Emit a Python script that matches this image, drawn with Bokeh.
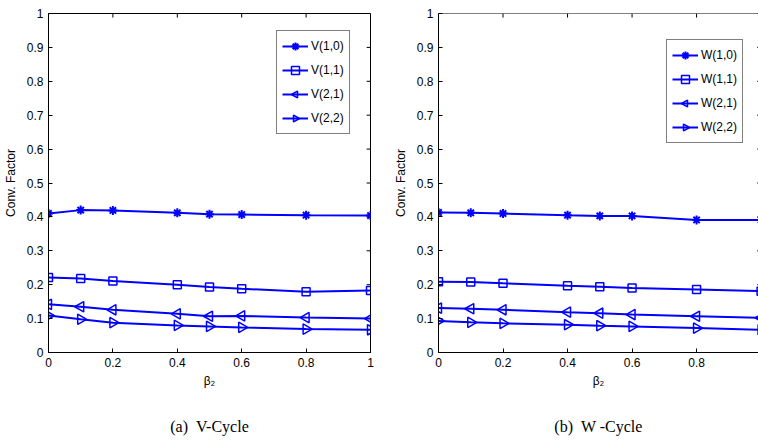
import numpy as np
from bokeh.plotting import figure
from bokeh.layouts import row
from bokeh.models import (Range1d, FixedTicker, Legend, LegendItem, Span, ColumnDataSource,
                          LinearAxis)
from bokeh.embed import file_html
from bokeh.resources import INLINE

beta2 = [0, 0.1, 0.2, 0.4, 0.5, 0.6, 0.8, 1.0]

v10 = [0.410, 0.420, 0.419, 0.412, 0.408, 0.407, 0.405, 0.404]
v11 = [0.221, 0.218, 0.211, 0.200, 0.193, 0.188, 0.179, 0.183]
v21 = [0.142, 0.135, 0.126, 0.114, 0.107, 0.108, 0.103, 0.100]
v22 = [0.109, 0.098, 0.088, 0.080, 0.077, 0.074, 0.069, 0.067]

w10 = [0.413, 0.412, 0.410, 0.405, 0.403, 0.403, 0.391, 0.391]
w11 = [0.209, 0.208, 0.204, 0.197, 0.194, 0.190, 0.186, 0.181]
w21 = [0.131, 0.129, 0.126, 0.119, 0.116, 0.112, 0.107, 0.102]
w22 = [0.093, 0.089, 0.086, 0.082, 0.079, 0.077, 0.072, 0.067]

v_names = ["V(1,0)", "V(1,1)", "V(2,1)", "V(2,2)"]
w_names = ["W(1,0)", "W(1,1)", "W(2,1)", "W(2,2)"]

x_ticks = [0, 0.2, 0.4, 0.6, 0.8, 1]
x_tick_labels = ["0", "0.2", "0.4", "0.6", "0.8", "1"]
y_ticks = [0, 0.1, 0.2, 0.3, 0.4, 0.5, 0.6, 0.7, 0.8, 0.9, 1]
y_tick_labels = ["0", "0.1", "0.2", "0.3", "0.4", "0.5", "0.6", "0.7", "0.8", "0.9", "1"]

x_label = "β₂"
y_label = "Conv. Factor"
captions = ["(a)\u00a0\u00a0V-Cycle", "(b)\u00a0\u00a0W -Cycle"]

BLUE = "#0000ff"
FONT = "Liberation Sans"
TICK = 0.012


def style_axis(ax, ticks, labels):
    ax.ticker = FixedTicker(ticks=ticks)
    ax.major_label_overrides = {t: l for t, l in zip(ticks, labels)}
    ax.axis_line_color = "black"
    ax.axis_line_width = 1
    ax.major_tick_line_color = "black"
    ax.major_tick_in = 4
    ax.major_tick_out = 0
    ax.minor_tick_line_color = None
    ax.major_label_text_font = FONT
    ax.major_label_text_color = "black"
    ax.major_label_text_font_size = "12px"
    ax.major_label_standoff = 5
    ax.axis_label_text_font = FONT
    ax.axis_label_text_font_size = "12px"
    ax.axis_label_text_font_style = "normal"
    ax.axis_label_text_color = "black"


def make_panel(series, names, caption, width, b_left, b_right, x_end, legend_xy, full_box):
    p = figure(width=width, height=440, x_range=Range1d(0, x_end), y_range=Range1d(0, 1),
               output_backend="svg", toolbar_location=None,
               min_border_left=b_left, min_border_right=b_right,
               min_border_top=13, min_border_bottom=88)
    p.grid.visible = False
    p.background_fill_color = "white"
    p.border_fill_color = "white"

    style_axis(p.xaxis[0], x_ticks, x_tick_labels)
    style_axis(p.yaxis[0], y_ticks, y_tick_labels)
    p.xaxis.axis_label = x_label
    p.yaxis.axis_label = y_label
    p.xaxis.axis_label_standoff = 4
    p.yaxis.axis_label_standoff = 6

    # caption below the panel, drawn as the label of a tick-less axis
    cap_axis = LinearAxis(ticker=FixedTicker(ticks=[]), axis_label=caption)
    cap_axis.axis_line_color = None
    cap_axis.major_tick_line_color = None
    cap_axis.minor_tick_line_color = None
    cap_axis.major_tick_in = 0
    cap_axis.major_tick_out = 0
    cap_axis.major_label_standoff = 0
    cap_axis.axis_label_standoff = 27
    cap_axis.axis_label_text_font = "Liberation Serif"
    cap_axis.axis_label_text_font_size = "16px"
    cap_axis.axis_label_text_font_style = "normal"
    cap_axis.axis_label_text_color = "black"
    p.add_layout(cap_axis, "below")

    top_y = y_ticks[-1]
    right_x = x_ticks[-1]
    p.segment(x0=x_ticks, y0=[top_y] * len(x_ticks), x1=x_ticks,
              y1=[top_y - TICK] * len(x_ticks), line_color="black", line_width=1)
    p.segment(x0=[right_x] * len(y_ticks), y0=y_ticks,
              x1=[right_x - TICK] * len(y_ticks), y1=y_ticks,
              line_color="black", line_width=1)
    if full_box:
        p.outline_line_color = "black"
        p.outline_line_width = 1
    else:
        p.outline_line_color = None
        p.add_layout(Span(location=top_y, dimension="width", line_color="black", line_width=1))

    items = []
    for k, (ys, name) in enumerate(zip(series, names)):
        src = ColumnDataSource(dict(x=beta2, y=ys))
        r1 = p.line("x", "y", source=src, line_color=BLUE, line_width=2)
        if k == 0:
            r2 = p.scatter("x", "y", source=src, marker="asterisk", size=9,
                           line_color=BLUE, line_width=2)
        elif k == 1:
            r2 = p.scatter("x", "y", source=src, marker="square", size=8,
                           line_color=BLUE, line_width=1.5, fill_color=None)
        else:
            ang = np.pi / 2 if k == 2 else -np.pi / 2
            r2 = p.ngon("x", "y", source=src, n=3, radius=6, radius_units="screen",
                        angle=ang, line_color=BLUE, line_width=1.5, fill_color=None)
        items.append(LegendItem(label=name, renderers=[r1, r2]))

    leg = Legend(items=items, location=legend_xy)
    leg.border_line_color = "black"
    leg.border_line_width = 1
    leg.background_fill_color = "white"
    leg.label_text_font = FONT
    leg.label_text_font_size = "12px"
    leg.label_text_color = "black"
    leg.glyph_width = 26
    leg.glyph_height = 20
    leg.label_height = 20
    leg.spacing = 4
    leg.padding = 5
    leg.margin = 0
    leg.label_standoff = 3
    p.add_layout(leg, "center")
    return p


p1 = make_panel([v10, v11, v21, v22], v_names, captions[0], 380, 47, 10, 1.0,
                (228, 218), True)
p2 = make_panel([w10, w11, w21, w22], w_names, captions[1], 378, 58, 0, 0.992,
                (228, 209), False)

layout = row(p1, p2)
open("out.html", "w").write(file_html(layout, INLINE))
